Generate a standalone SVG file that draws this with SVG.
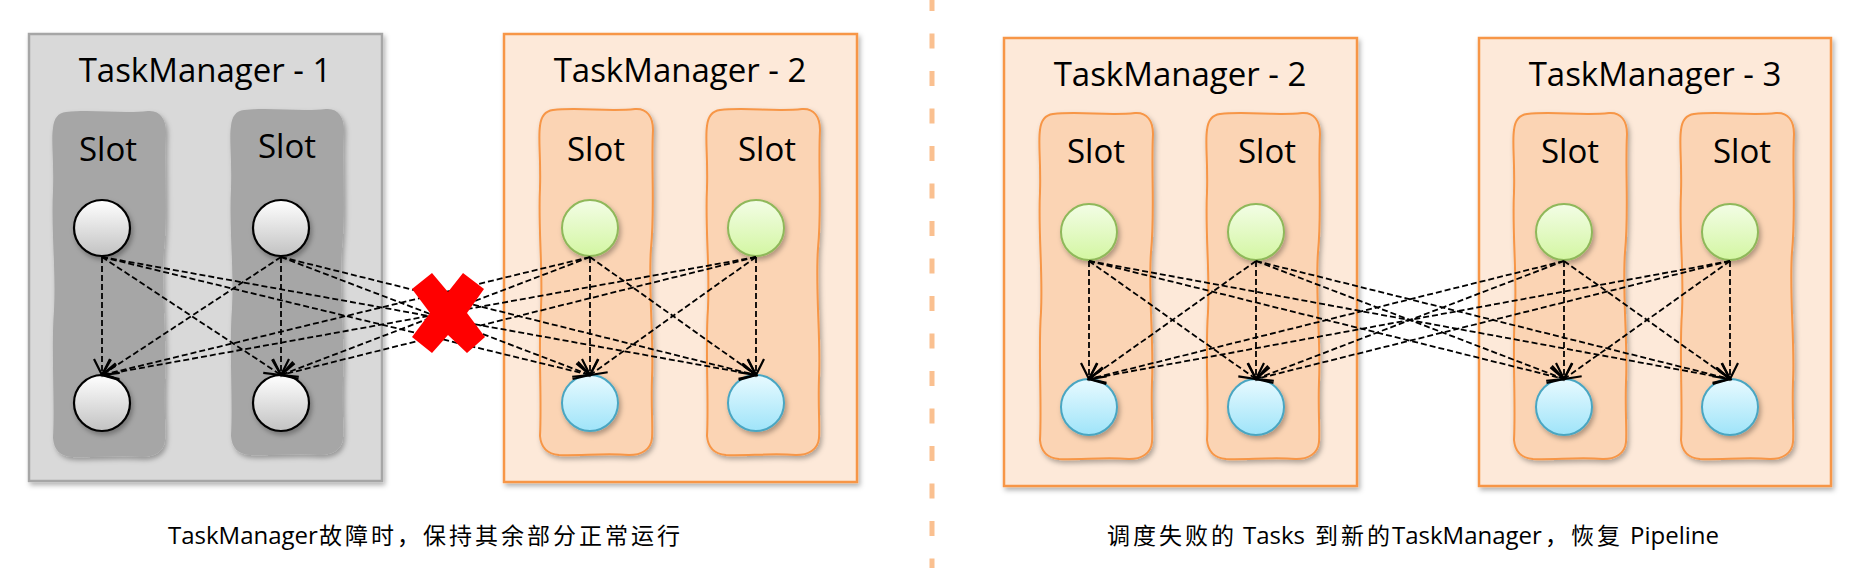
<svg xmlns="http://www.w3.org/2000/svg" xmlns:xlink="http://www.w3.org/1999/xlink" width="1862" height="568" viewBox="0 0 1862 568">
<style>
.tmGray{fill:#d9d9d9;stroke:#a6a6a6;stroke-width:2.5}
.tmOr{fill:#fde9d9;stroke:#f79646;stroke-width:2.5}
.slotGray{fill:#a6a6a6;stroke:none}
.slotOr{fill:#fbd4b4;stroke:#f79646;stroke-width:2}
.title{font-family:"Open Sans","Noto Sans CJK SC",sans-serif;font-size:33px;fill:#000;text-anchor:middle}
.cap{font-family:"Open Sans","Noto Sans CJK SC",sans-serif;font-size:24px;fill:#000}
.cjk{font-family:"Noto Sans CJK SC",sans-serif;font-size:23px;letter-spacing:3px}
.cg{fill:url(#gGray);stroke:#000;stroke-width:2.2}
.cgr{fill:url(#gGreen);stroke:#8fb85a;stroke-width:2}
.cb{fill:url(#gBlue);stroke:#4aa6c2;stroke-width:2}
.edge{stroke:#000;stroke-width:1.8;stroke-dasharray:6 3;fill:none;marker-end:url(#arr)}
</style>
<defs>
<filter id="sh" x="-20%" y="-20%" width="140%" height="140%">
<feDropShadow dx="2" dy="3" stdDeviation="2.5" flood-color="#000" flood-opacity="0.3"/>
</filter>
<linearGradient id="gGray" x1="0" y1="0" x2="0" y2="1"><stop offset="0" stop-color="#ffffff"/><stop offset="1" stop-color="#c2c2c2"/></linearGradient>
<linearGradient id="gGreen" x1="0" y1="0" x2="0" y2="1"><stop offset="0" stop-color="#f3fde6"/><stop offset="1" stop-color="#d3f6a2"/></linearGradient>
<linearGradient id="gBlue" x1="0" y1="0" x2="0" y2="1"><stop offset="0" stop-color="#e8faff"/><stop offset="1" stop-color="#9fe4f9"/></linearGradient>
<path id="slotShape" d="M14,2 C40,-1 70,4 96,1 C108,0 114,9 114,22 C112,60 116,100 112,140 C109,180 115,230 113,270 C112,300 114,318 113,330 C112,342 102,347 90,347 C65,345 40,348 20,347 C8,346 2,340 1,328 C3,290 -1,240 2,200 C4,160 -1,120 1,80 C2,50 -1,30 1,18 C2,8 6,3 14,2 Z"/>
<marker id="arr" markerUnits="userSpaceOnUse" markerWidth="22" markerHeight="20" refX="17" refY="9" orient="auto">
<path d="M1,1 L17,9 L1,17" fill="none" stroke="#000" stroke-width="2.2"/>
</marker>
</defs>

<line id="divider" x1="932" y1="-4" x2="932" y2="568" stroke="#fac090" stroke-width="5" stroke-dasharray="15 22.5"/>

<!-- Left panel -->
<g id="tm1">
<rect class="tmGray" x="29" y="34" width="353" height="447" filter="url(#sh)"/>
<text class="title" x="205" y="82">TaskManager - 1</text>
</g>
<g id="tm1-slot1"><use xlink:href="#slotShape" href="#slotShape" x="52" y="110" class="slotGray" filter="url(#sh)"/><text class="title" x="108" y="161">Slot</text></g>
<g id="tm1-slot2"><use xlink:href="#slotShape" href="#slotShape" x="230" y="108" class="slotGray" filter="url(#sh)"/><text class="title" x="287" y="158">Slot</text></g>

<g id="tm2a">
<rect class="tmOr" x="504" y="34" width="353" height="448" filter="url(#sh)"/>
<text class="title" x="680" y="82">TaskManager - 2</text>
</g>
<g id="tm2a-slot1"><use xlink:href="#slotShape" href="#slotShape" x="539" y="108" class="slotOr" filter="url(#sh)"/><text class="title" x="596" y="161">Slot</text></g>
<g id="tm2a-slot2"><use xlink:href="#slotShape" href="#slotShape" x="706" y="108" class="slotOr" filter="url(#sh)"/><text class="title" x="767" y="161">Slot</text></g>

<g id="c-l1t"><circle class="cg" cx="102" cy="228" r="28" filter="url(#sh)"/></g>
<g id="c-l2t"><circle class="cg" cx="281" cy="228" r="28" filter="url(#sh)"/></g>
<g id="c-l1b"><circle class="cg" cx="102" cy="403" r="28" filter="url(#sh)"/></g>
<g id="c-l2b"><circle class="cg" cx="281" cy="403" r="28" filter="url(#sh)"/></g>
<g id="c-l3t"><circle class="cgr" cx="590" cy="228" r="28" filter="url(#sh)"/></g>
<g id="c-l4t"><circle class="cgr" cx="756" cy="228" r="28" filter="url(#sh)"/></g>
<g id="c-l3b"><circle class="cb" cx="590" cy="403" r="28" filter="url(#sh)"/></g>
<g id="c-l4b"><circle class="cb" cx="756" cy="403" r="28" filter="url(#sh)"/></g>

<!-- Right panel -->
<g id="tm2b">
<rect class="tmOr" x="1004" y="38" width="353" height="448" filter="url(#sh)"/>
<text class="title" x="1180" y="86">TaskManager - 2</text>
</g>
<g id="tm2b-slot1"><use xlink:href="#slotShape" href="#slotShape" x="1039" y="112" class="slotOr" filter="url(#sh)"/><text class="title" x="1096" y="163">Slot</text></g>
<g id="tm2b-slot2"><use xlink:href="#slotShape" href="#slotShape" x="1206" y="112" class="slotOr" filter="url(#sh)"/><text class="title" x="1267" y="163">Slot</text></g>

<g id="tm3">
<rect class="tmOr" x="1479" y="38" width="352" height="448" filter="url(#sh)"/>
<text class="title" x="1655" y="86">TaskManager - 3</text>
</g>
<g id="tm3-slot1"><use xlink:href="#slotShape" href="#slotShape" x="1513" y="112" class="slotOr" filter="url(#sh)"/><text class="title" x="1570" y="163">Slot</text></g>
<g id="tm3-slot2"><use xlink:href="#slotShape" href="#slotShape" x="1680" y="112" class="slotOr" filter="url(#sh)"/><text class="title" x="1742" y="163">Slot</text></g>

<g id="c-r1t"><circle class="cgr" cx="1089" cy="232" r="28" filter="url(#sh)"/></g>
<g id="c-r2t"><circle class="cgr" cx="1256" cy="232" r="28" filter="url(#sh)"/></g>
<g id="c-r3t"><circle class="cgr" cx="1564" cy="232" r="28" filter="url(#sh)"/></g>
<g id="c-r4t"><circle class="cgr" cx="1730" cy="232" r="28" filter="url(#sh)"/></g>
<g id="c-r1b"><circle class="cb" cx="1089" cy="407" r="28" filter="url(#sh)"/></g>
<g id="c-r2b"><circle class="cb" cx="1256" cy="407" r="28" filter="url(#sh)"/></g>
<g id="c-r3b"><circle class="cb" cx="1564" cy="407" r="28" filter="url(#sh)"/></g>
<g id="c-r4b"><circle class="cb" cx="1730" cy="407" r="28" filter="url(#sh)"/></g>

<g id="connectors">
<line class="edge" x1="102" y1="257" x2="102" y2="375"/>
<line class="edge" x1="102" y1="257" x2="281" y2="375"/>
<line class="edge" x1="102" y1="257" x2="590" y2="375"/>
<line class="edge" x1="102" y1="257" x2="756" y2="375"/>
<line class="edge" x1="281" y1="257" x2="102" y2="375"/>
<line class="edge" x1="281" y1="257" x2="281" y2="375"/>
<line class="edge" x1="281" y1="257" x2="590" y2="375"/>
<line class="edge" x1="281" y1="257" x2="756" y2="375"/>
<line class="edge" x1="590" y1="257" x2="102" y2="375"/>
<line class="edge" x1="590" y1="257" x2="281" y2="375"/>
<line class="edge" x1="590" y1="257" x2="590" y2="375"/>
<line class="edge" x1="590" y1="257" x2="756" y2="375"/>
<line class="edge" x1="756" y1="257" x2="102" y2="375"/>
<line class="edge" x1="756" y1="257" x2="281" y2="375"/>
<line class="edge" x1="756" y1="257" x2="590" y2="375"/>
<line class="edge" x1="756" y1="257" x2="756" y2="375"/>

<line class="edge" x1="1089" y1="261" x2="1089" y2="379"/>
<line class="edge" x1="1089" y1="261" x2="1256" y2="379"/>
<line class="edge" x1="1089" y1="261" x2="1564" y2="379"/>
<line class="edge" x1="1089" y1="261" x2="1730" y2="379"/>
<line class="edge" x1="1256" y1="261" x2="1089" y2="379"/>
<line class="edge" x1="1256" y1="261" x2="1256" y2="379"/>
<line class="edge" x1="1256" y1="261" x2="1564" y2="379"/>
<line class="edge" x1="1256" y1="261" x2="1730" y2="379"/>
<line class="edge" x1="1564" y1="261" x2="1089" y2="379"/>
<line class="edge" x1="1564" y1="261" x2="1256" y2="379"/>
<line class="edge" x1="1564" y1="261" x2="1564" y2="379"/>
<line class="edge" x1="1564" y1="261" x2="1730" y2="379"/>
<line class="edge" x1="1730" y1="261" x2="1089" y2="379"/>
<line class="edge" x1="1730" y1="261" x2="1256" y2="379"/>
<line class="edge" x1="1730" y1="261" x2="1564" y2="379"/>
<line class="edge" x1="1730" y1="261" x2="1730" y2="379"/>
</g>

<g id="failure-x">
<polygon fill="#ff0000" points="412,289 432,273 448,292 463,273 484,289 467,313 485,337 467,353 448,335 432,353 412,337 430,313"/>
</g>

<g id="captions">
<text class="cap" y="544"><tspan x="168">TaskManager</tspan><tspan class="cjk" x="319">故障时，保持其余部分正常运行</tspan></text>
<text class="cap" y="544"><tspan class="cjk" x="1107">调度失败的</tspan><tspan x="1243">Tasks</tspan><tspan class="cjk" x="1315">到新的</tspan><tspan x="1392">TaskManager</tspan><tspan class="cjk" x="1545">，恢复</tspan><tspan x="1630">Pipeline</tspan></text>
</g>
</svg>
